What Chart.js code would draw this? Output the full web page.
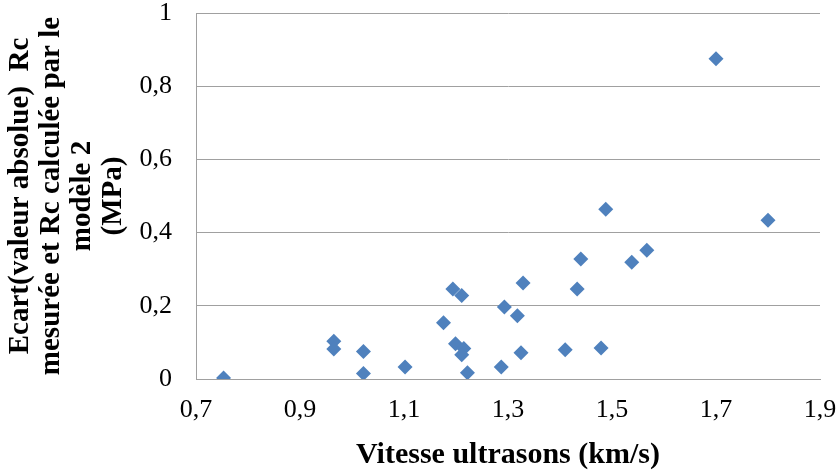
<!DOCTYPE html>
<html>
<head>
<meta charset="utf-8">
<script src="https://cdn.jsdelivr.net/npm/chart.js@4.4.1/dist/chart.umd.min.js"></script>
<style>
  html, body { margin: 0; padding: 0; background: #ffffff; }
  canvas { display: block; }
</style>
</head>
<body>
<canvas id="c" width="837" height="470"></canvas>
<script>
// Vitesse ultrasons (km/s)
const xValues = [0.753, 0.965, 0.965, 1.022, 1.022, 1.102, 1.176, 1.194, 1.211, 1.199, 1.215, 1.211, 1.222, 1.287, 1.293, 1.318, 1.329, 1.325, 1.410, 1.433, 1.440, 1.479, 1.488, 1.538, 1.567, 1.700, 1.800];
// Ecart (MPa)
const yValues = [0.003, 0.103, 0.082, 0.075, 0.015, 0.033, 0.154, 0.246, 0.228, 0.096, 0.083, 0.066, 0.017, 0.033, 0.197, 0.173, 0.262, 0.072, 0.080, 0.246, 0.328, 0.085, 0.464, 0.319, 0.352, 0.875, 0.434];
const xTicks = [0.7, 0.9, 1.1, 1.3, 1.5, 1.7, 1.9];
const yTicks = [0, 0.2, 0.4, 0.6, 0.8, 1];
const xTitle = 'Vitesse ultrasons (km/s)';
const yTitle = ['Ecart(valeur absolue)  Rc', 'mesurée et Rc calculée par le', 'modèle 2', '(MPa)'];

const points = xValues.map((x, i) => ({ x: x, y: yValues[i] }));
const fmt = v => String(Number(v.toFixed(1))).replace('.', ',');
const gridGray = '#A0A0A0';

new Chart(document.getElementById('c'), {
  type: 'scatter',
  data: {
    datasets: [{
      data: points,
      pointStyle: 'rectRot',
      pointRadius: 7.5,
      pointBackgroundColor: '#4F81BD',
      pointBorderColor: '#4F81BD',
      pointBorderWidth: 0
    }]
  },
  options: {
    responsive: false,
    devicePixelRatio: 1,
    animation: false,
    layout: { padding: 0 },
    plugins: { legend: { display: false }, tooltip: { enabled: false } },
    scales: {
      x: {
        type: 'linear',
        min: 0.7,
        max: 1.9,
        afterBuildTicks: s => { s.ticks = xTicks.map(v => ({ value: v })); },
        afterFit: s => { s.height = 91; s.paddingLeft = 0; s.paddingRight = 17; },
        grid: { display: false, drawTicks: false },
        border: { display: true, color: gridGray, width: 1 },
        ticks: {
          padding: 18,
          color: '#000',
          font: { family: '"Liberation Serif", serif', size: 26, lineHeight: 1 },
          callback: v => fmt(v)
        },
        title: {
          display: true,
          text: xTitle,
          color: '#000',
          padding: { top: 0, bottom: 0 },
          font: { family: '"Liberation Serif", serif', size: 30, weight: 'bold', lineHeight: 1 }
        }
      },
      y: {
        min: 0,
        max: 1,
        afterBuildTicks: s => { s.ticks = yTicks.map(v => ({ value: v })); },
        afterFit: s => { s.width = 196; s.paddingTop = 13; s.paddingBottom = 0; },
        grid: { color: gridGray, lineWidth: 1, drawTicks: false },
        border: { display: true, color: gridGray, width: 1 },
        ticks: {
          padding: 24,
          color: '#000',
          font: { family: '"Liberation Serif", serif', size: 26, lineHeight: 1 },
          callback: v => fmt(v)
        },
        title: {
          display: true,
          text: yTitle,
          color: '#000',
          padding: { top: 5, bottom: 0 },
          font: { family: '"Liberation Serif", serif', size: 29, weight: 'bold', lineHeight: '31px' }
        }
      }
    }
  }
});
</script>
</body>
</html>
